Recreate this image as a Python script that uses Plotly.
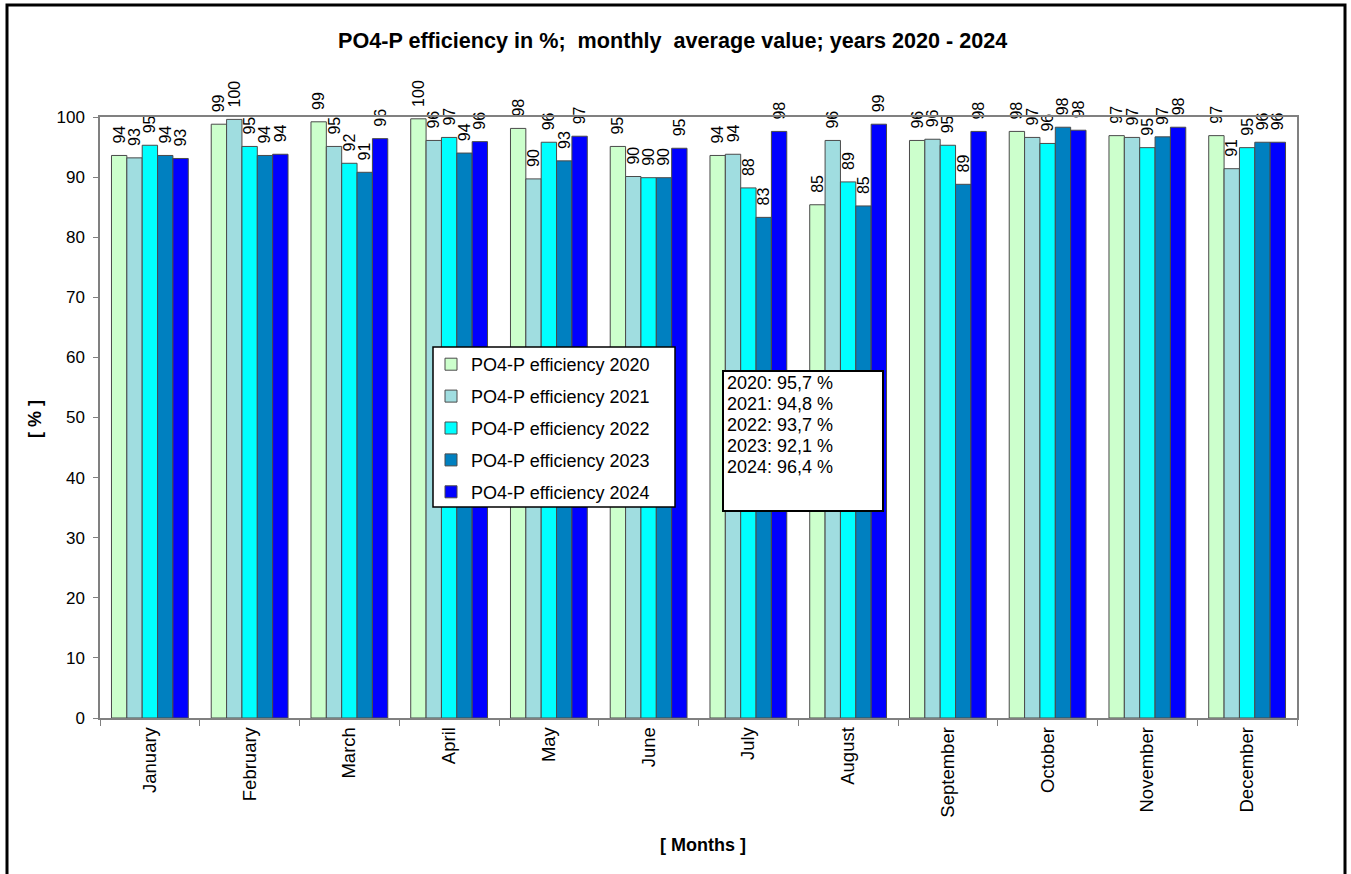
import plotly.graph_objects as go

months = ["January", "February", "March", "April", "May", "June", "July",
          "August", "September", "October", "November", "December"]

eff_2020 = [93.6, 98.8, 99.2, 99.7, 98.1, 95.1, 93.6, 85.4, 96.1, 97.6, 96.9, 96.9]
eff_2021 = [93.2, 99.6, 95.1, 96.1, 89.7, 90.1, 93.8, 96.1, 96.3, 96.6, 96.6, 91.4]
eff_2022 = [95.3, 95.1, 92.3, 96.6, 95.8, 89.9, 88.2, 89.2, 95.3, 95.6, 94.9, 94.9]
eff_2023 = [93.6, 93.6, 90.8, 94.0, 92.7, 89.9, 83.3, 85.2, 88.8, 98.3, 96.7, 95.8]
eff_2024 = [93.1, 93.8, 96.4, 95.9, 96.8, 94.8, 97.6, 98.8, 97.6, 97.8, 98.3, 95.8]

series_names = ["PO4-P efficiency 2020", "PO4-P efficiency 2021", "PO4-P efficiency 2022",
                "PO4-P efficiency 2023", "PO4-P efficiency 2024"]
series_values = [eff_2020, eff_2021, eff_2022, eff_2023, eff_2024]
series_colors = ["#CCFFCC", "#A0DDE0", "#00FFFF", "#0080C0", "#0000FF"]

avg_lines = ["2020: 95,7 %", "2021: 94,8 %", "2022: 93,7 %", "2023: 92,1 %", "2024: 96,4 %"]

FONT = "Arial, Liberation Sans, sans-serif"

fig = go.Figure()
for i, (name, vals, col) in enumerate(zip(series_names, series_values, series_colors)):
    fig.add_trace(go.Bar(
        x=months, y=vals, name=name, legendgroup=f"g{i}",
        marker=dict(color=col, line=dict(color="#4a4a4a", width=1)),
        texttemplate="\u00a0\u00a0%{y:.0f}", textposition="outside", textangle=-90,
        textfont=dict(family=FONT, size=16, color="black"),
        constraintext="none", cliponaxis=False,
        hovertemplate="%{x}: %{y}<extra>" + name + "</extra>",
    ))

W, H = 1351, 874
L, R, T, B = 100, 54, 117, 156
pw, ph = W - L - R, H - T - B

def px_x(x):
    return (x - L) / pw

def px_y(y):
    return (H - B - y) / ph

shapes = [
    # outer frame
    dict(type="rect", xref="paper", yref="paper",
         x0=px_x(7), x1=px_x(1345), y0=px_y(885), y1=px_y(5),
         line=dict(color="black", width=3), layer="above"),
    # legend box
    dict(type="rect", xref="paper", yref="paper",
         x0=px_x(433), x1=px_x(675), y0=px_y(507), y1=px_y(347),
         line=dict(color="black", width=1.5), fillcolor="white", layer="above"),
    # averages box
    dict(type="rect", xref="paper", yref="paper",
         x0=px_x(723), x1=px_x(883), y0=px_y(511), y1=px_y(371),
         line=dict(color="black", width=2), fillcolor="white", layer="above"),
]

annotations = []
for k, line in enumerate(avg_lines):
    annotations.append(dict(
        text=line, xref="paper", yref="paper", x=px_x(725), y=px_y(383 + 21 * k),
        xanchor="left", yanchor="middle", showarrow=False,
        font=dict(family=FONT, size=18, color="black"),
    ))
annotations.append(dict(
    text="<b>[ % ]</b>", xref="paper", yref="paper", x=px_x(35), y=px_y(419),
    xanchor="center", yanchor="middle", textangle=-90, showarrow=False,
    font=dict(family=FONT, size=18, color="black"),
))
annotations.append(dict(
    text="<b>[ Months ]</b>", xref="paper", yref="paper", x=px_x(703), y=px_y(845),
    xanchor="center", yanchor="middle", showarrow=False,
    font=dict(family=FONT, size=18, color="black"),
))
annotations.append(dict(
    text="<b>PO4-P efficiency in %;  monthly  average value; years 2020 - 2024</b>",
    xref="paper", yref="paper", x=px_x(672), y=px_y(41),
    xanchor="center", yanchor="middle", showarrow=False,
    font=dict(family=FONT, size=21.6, color="black"),
))

fig.update_layout(
    width=W, height=H,
    margin=dict(l=L, r=R, t=T, b=B, pad=0),
    paper_bgcolor="white", plot_bgcolor="white",
    barmode="group", bargap=0.23, bargroupgap=0,
    font=dict(family=FONT, size=17, color="black"),
    showlegend=True,
    legend=dict(
        x=px_x(431), y=px_y(346), xanchor="left", yanchor="top",
        bgcolor="rgba(0,0,0,0)", borderwidth=0,
        font=dict(family=FONT, size=18, color="black"),
        tracegroupgap=5.5, traceorder="grouped",
    ),
    shapes=shapes,
    annotations=annotations,
)

fig.update_xaxes(
    type="category", showline=True, linecolor="#808080", linewidth=1.5, mirror=True,
    ticks="outside", tickson="boundaries", ticklen=6, tickcolor="#808080",
    tickangle=-90, tickfont=dict(family=FONT, size=18.5, color="black"),
    showgrid=False, zeroline=False,
)
fig.update_yaxes(
    range=[0, 100], dtick=10, showline=True, linecolor="#808080", linewidth=1.5, mirror=True,
    ticks="outside", ticklen=5, tickcolor="#808080",
    tickfont=dict(family=FONT, size=17, color="black"), ticklabelstandoff=5,
    showgrid=False, zeroline=False,
)

fig.write_html("out.html", config={"displayModeBar": False},
               post_script="document.body.style.margin='0';")
